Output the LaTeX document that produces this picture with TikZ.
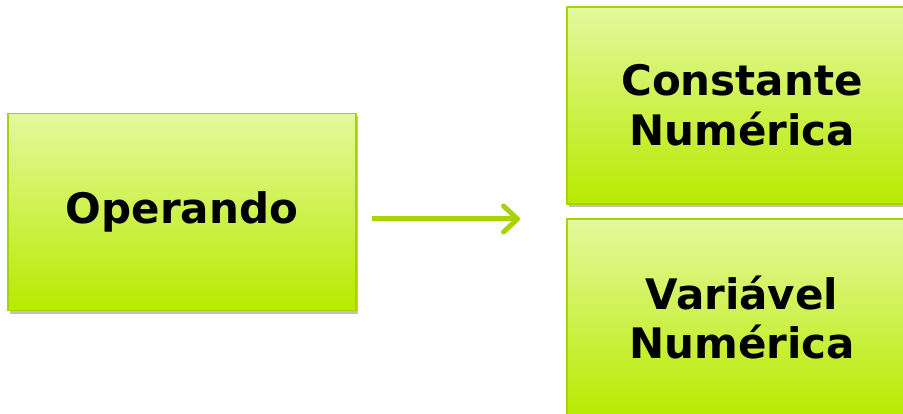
\documentclass[tikz,border=0pt]{standalone}
\usepackage{fontspec}
\setmainfont{DejaVu Sans}
\usetikzlibrary{arrows.meta,shadows}
\definecolor{limetop}{HTML}{E3F99D}
\definecolor{limebot}{HTML}{B8EA00}
\definecolor{limeline}{HTML}{A8D300}

\begin{document}
\begin{tikzpicture}[x=1pt, y=1pt, box/.style={draw=limeline, line width=1.5pt, top color=limetop, bottom color=limebot, minimum width=348pt, minimum height=197pt, align=center, font=\fontsize{42}{50}\selectfont\bfseries, drop shadow={shadow xshift=2pt, shadow yshift=-3pt, opacity=.35, fill=black!70}}, conn/.style={draw=limeline, line width=5pt, -{Straight Barb[length=14pt, width=26pt, line width=5pt, round]}}]
			\useasboundingbox (0,0) rectangle (903,413);
			\clip (0,0) rectangle (903,413);
			\node[box] (oper) at (182,201) {Operando};
			\node[box, minimum width=350pt] (const) at (742,307.5) {Constante\\Numérica};
			\node[box, minimum width=350pt] (var) at (742,95.5) {Variável\\Numérica};
			\coordinate (tail) at (372,194);
			\coordinate (tip) at (520,194);
			\draw[conn] (tail) -- (tip);
			\end{tikzpicture}
\end{document}
